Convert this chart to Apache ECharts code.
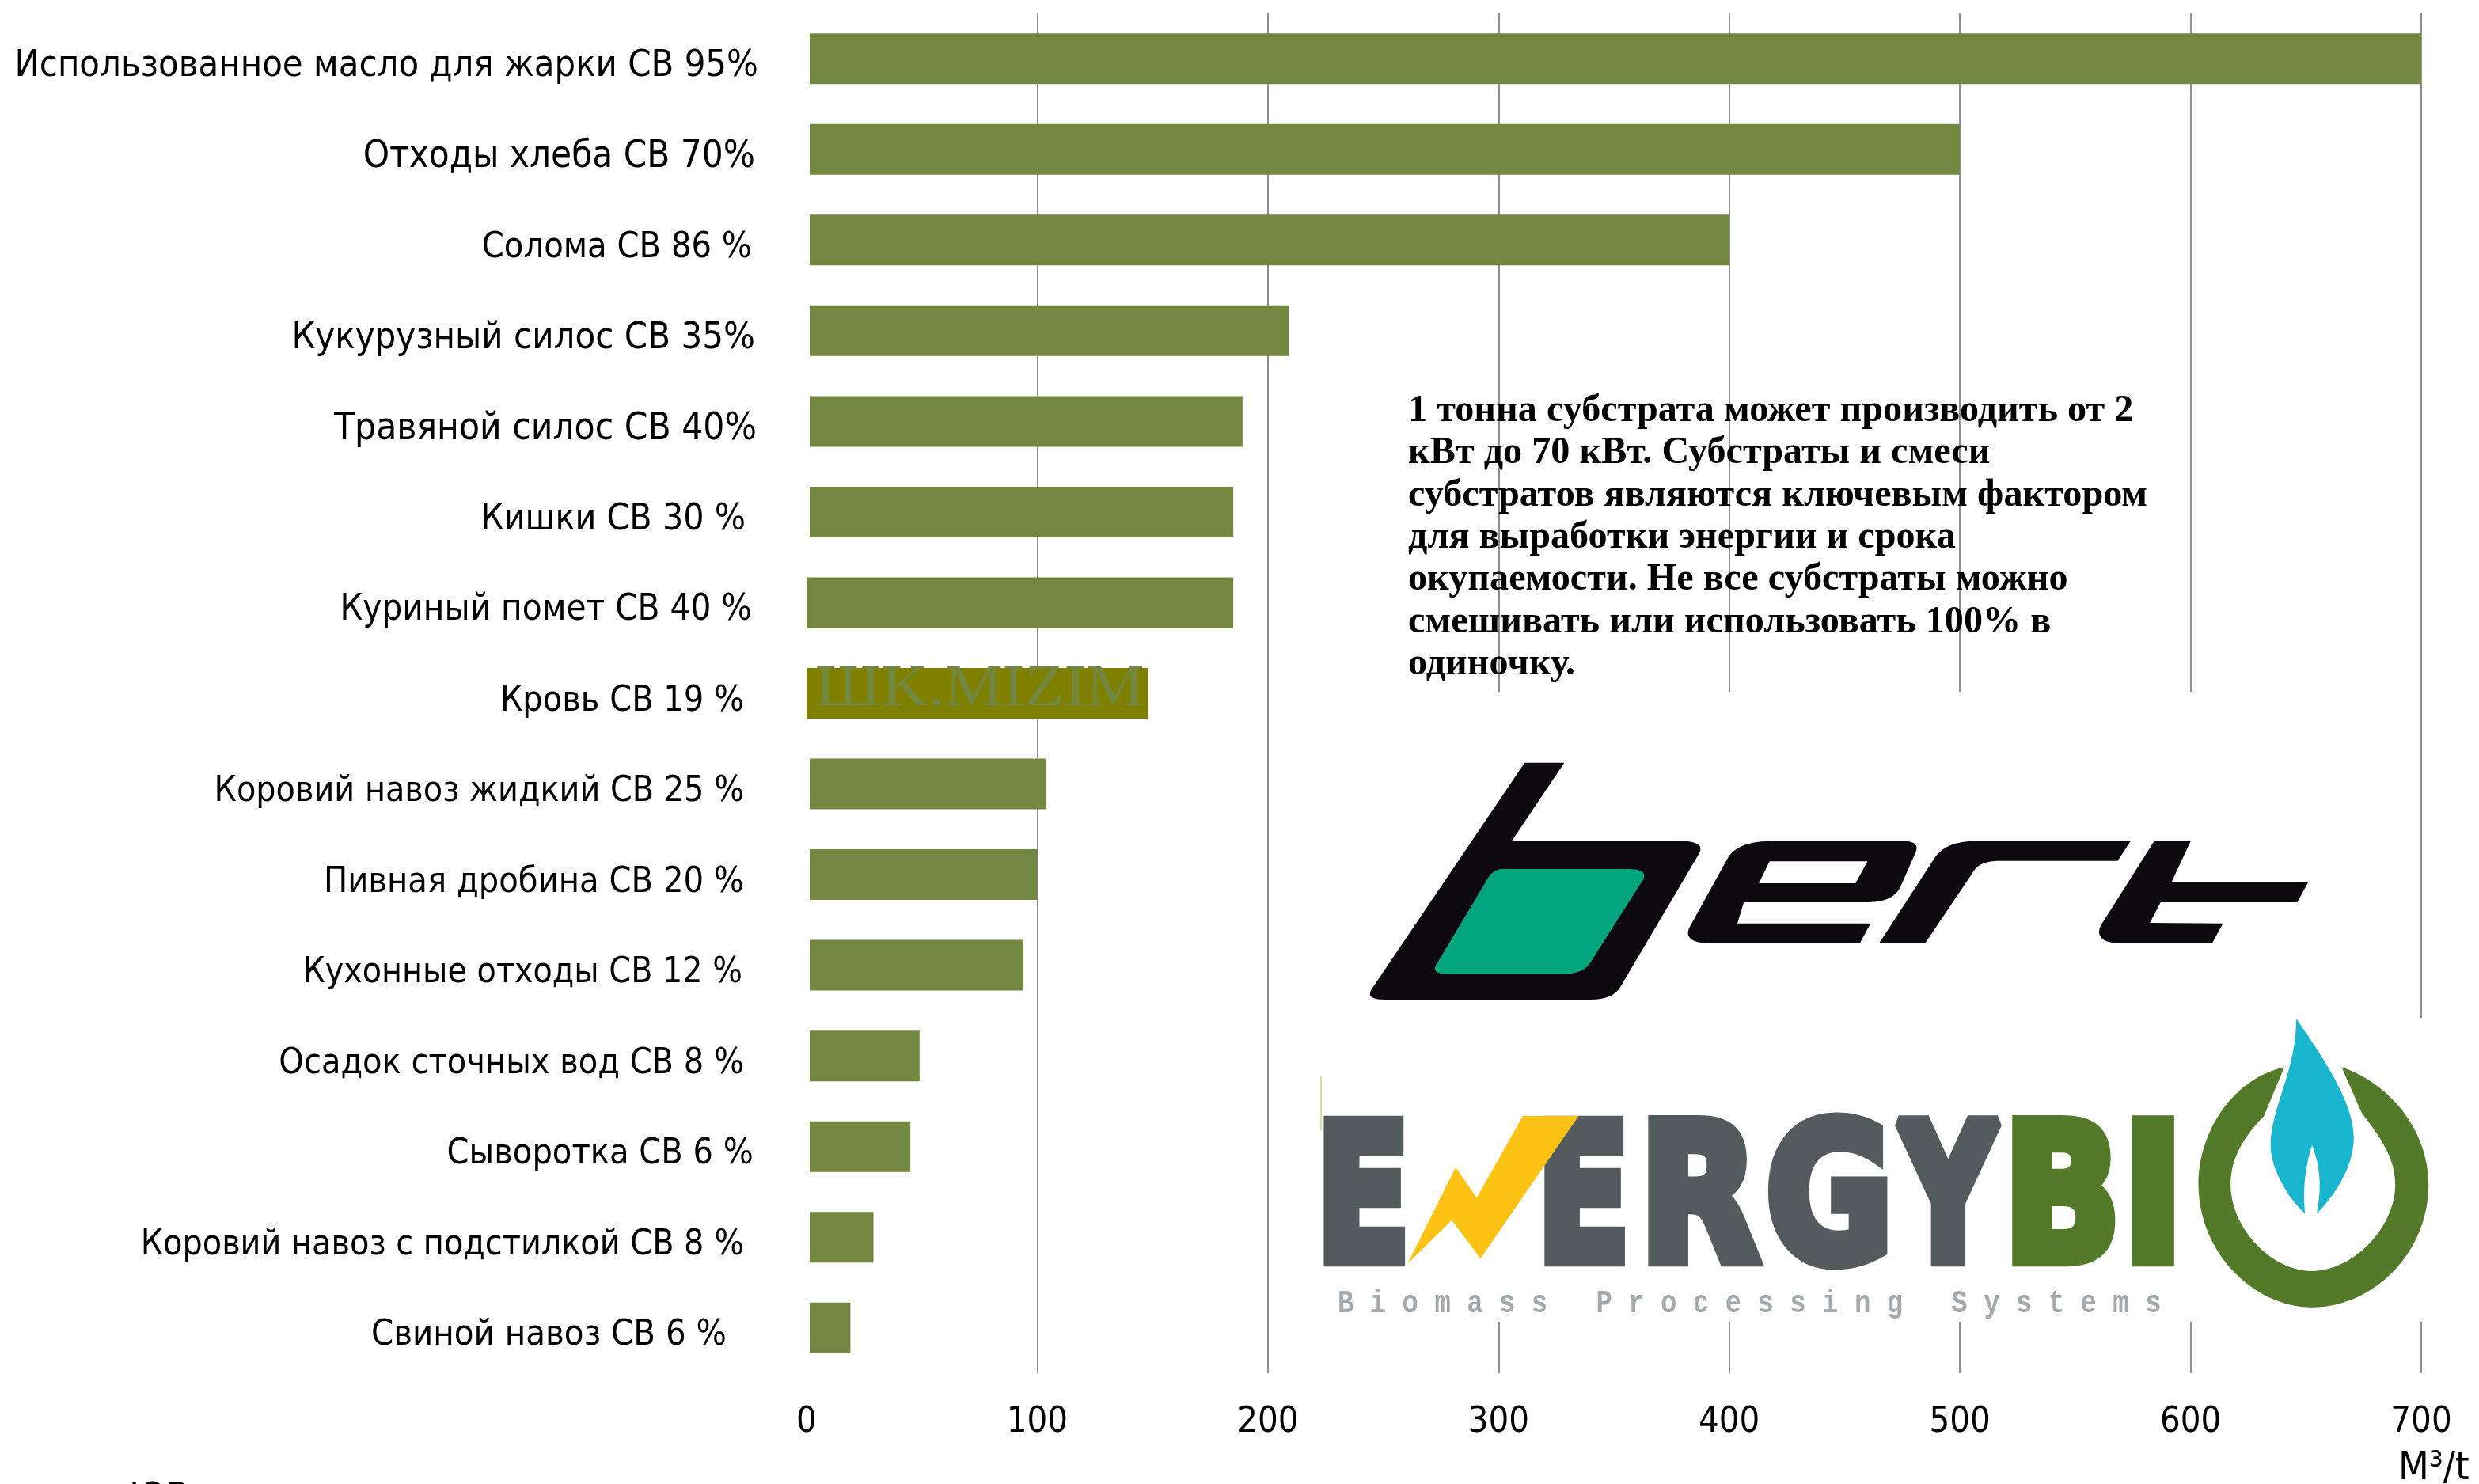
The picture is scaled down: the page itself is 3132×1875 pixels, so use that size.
<!DOCTYPE html>
<html>
<head>
<meta charset="utf-8">
<style>html,body{margin:0;padding:0;background:#fff}#c{width:3132px;height:1875px}</style>
<script src="https://cdn.jsdelivr.net/npm/echarts@6/dist/echarts.min.js"></script>
</head>
<body>
<div id="c"></div>
<script>
const categories = [
  'Использованное масло для жарки СВ 95%',
  'Отходы хлеба СВ 70%',
  'Солома СВ 86 %',
  'Кукурузный силос СВ 35%',
  'Травяной силос СВ 40%',
  'Кишки СВ 30 %',
  'Куриный помет СВ 40 %',
  'Кровь СВ 19 %',
  'Коровий навоз жидкий СВ 25 %',
  'Пивная дробина СВ 20 %',
  'Кухонные отходы СВ 12 %',
  'Осадок сточных вод СВ 8 %',
  'Сыворотка СВ 6 %',
  'Коровий навоз с подстилкой СВ 8 %',
  'Свиной навоз СВ 6 %'
];
const biogasYield = [700, 500, 400, 209, 189, 185, 185, 148, 104, 100, 94, 49, 45, 29, 19];
const xTicks = [0, 100, 200, 300, 400, 500, 600, 700];
const noteLines = [
  '1 тонна субстрата может производить от 2',
  'кВт до 70 кВт. Субстраты и смеси',
  'субстратов являются ключевым фактором',
  'для выработки энергии и срока',
  'окупаемости. Не все субстраты можно',
  'смешивать или использовать 100% в',
  'одиночку.'
];
const unitLabel = 'М³/t';
const watermark = 'ШK.MIZIM';

// per-label typography of the axis (layout only)
const labelRightInset = [0, 4, 8, 4, 2, 16, 8, 18, 18, 18, 20, 18, 6, 18, 40];
const labelFontSize = [46.7, 47.1, 44.7, 46.8, 47.4, 46, 45.3, 44.5, 44.3, 44.7, 44.2, 44.5, 44.6, 44.3, 45];
const BAR = '#728840', GRID = '#8e8e8e', LABEL_FONT = '"DejaVu Sans Condensed"';

const chart = echarts.init(document.getElementById('c'), null, {renderer: 'canvas'});
const mctx = document.createElement('canvas').getContext('2d');

function fitText(ch, x0, x1, y0, y1, fill, lw) {
  const font = 'bold 200px "DejaVu Sans"';
  mctx.font = font; mctx.textBaseline = 'middle'; mctx.textAlign = 'left';
  const m = mctx.measureText(ch);
  const L = m.actualBoundingBoxLeft + lw / 2, R = m.actualBoundingBoxRight + lw / 2;
  const A = m.actualBoundingBoxAscent + lw / 2, D = m.actualBoundingBoxDescent + lw / 2;
  const sx = (x1 - x0) / (L + R), sy = (y1 - y0) / (A + D);
  return {
    type: 'text', z: 60, x: x0 + L * sx, y: y0 + A * sy, scaleX: sx, scaleY: sy,
    style: {text: ch, font, fill, stroke: fill, lineWidth: lw, textAlign: 'left', textVerticalAlign: 'middle'}
  };
}
function pathEl(name, d, fill, z) {
  echarts.graphic.registerShape(name, echarts.graphic.extendPath(d, {}));
  return {type: name, z, shape: {}, style: {fill}};
}

const DARK = '#545b5f', GREEN = '#537a28', INK = '#0d0a0f';
const graphic = [
  // white backing of the pasted logos
  {type: 'rect', z: 1, shape: {x: 1670, y: 874, width: 1370, height: 412}, style: {fill: '#fff'}},
  {type: 'rect', z: 1, shape: {x: 1670, y: 1286, width: 1462, height: 384}, style: {fill: '#fff'}},
  {type: 'rect', z: 55, shape: {x: 1014, y: 17, width: 9, height: 708}, style: {fill: '#fff'}},
  {type: 'rect', z: 55, shape: {x: 1014, y: 805, width: 9, height: 35}, style: {fill: '#fff'}},
  {type: 'rect', z: 55, shape: {x: 1014, y: 915, width: 9, height: 820}, style: {fill: '#fff'}},
  {type: 'rect', z: 55, shape: {x: 1668, y: 1360, width: 2, height: 68}, style: {fill: '#d3e3a3'}},
  // note
  {type: 'text', z: 50, x: 1779, y: 493, scaleX: 1.004, style: {
    text: noteLines.join('\n'), font: 'bold 48px "Liberation Serif"', fill: '#000', lineHeight: 53.3,
    textAlign: 'left', textVerticalAlign: 'top'}},
  // watermark over the blood bar
  {type: 'text', z: 50, x: 1030, y: 871, scaleX: 1.1, style: {
    text: watermark, font: '75px "Liberation Serif"', fill: BAR, textAlign: 'left', textVerticalAlign: 'middle'}},
  {type: 'rect', z: 51, shape: {x: 1452, y: 840, width: 60, height: 70}, style: {fill: '#fff'}},
  // bert logo
  {type: 'group', z: 60, x: 1650, y: 900, scaleX: 0.946, scaleY: 0.51, children: [
    pathEl('bertB', 'M292 125 L345 125 L275 318 L495 318 Q535 318 525 350 L420 680 Q410 712 380 712 L105 712 Q78 712 88 685 Z', INK, 60),
    pathEl('bertG', 'M262 388 L430 388 Q458 388 450 415 L378 625 Q368 648 345 648 L190 648 Q165 648 175 622 L245 405 Q252 388 262 388 Z', '#04a67f', 61)
  ]},
  {type: 'group', z: 60, x: 2100, y: 1040, scaleX: 1 / 1.842, scaleY: 1 / 3, children: [
    pathEl('bertE', 'M150 140 Q170 70 250 68 L565 68 Q600 70 590 110 L555 240 Q540 298 480 300 L190 300 L175 380 L485 380 L460 455 L110 455 Q50 455 62 400 Z', INK, 60),
    pathEl('bertE2', 'M250 145 L478 145 L450 228 L225 228 Z', '#fff', 61),
    pathEl('bertR', 'M505 455 L612 455 L730 170 Q745 145 780 143 L1060 143 L1090 68 L730 68 Q660 68 635 130 Z', INK, 60),
    pathEl('bertT', 'M1145 68 L1230 68 L1185 225 L1503 225 L1478 300 L1160 300 L1135 378 L1305 380 L1280 455 L1060 455 Q1005 450 1020 390 Z', INK, 60)
  ]},
  // EnergyBio logo
  fitText('E', 1672, 1775, 1409, 1600, DARK, 14),
  fitText('E', 1951, 2053, 1409, 1600, DARK, 14),
  fitText('R', 2082, 2225, 1409, 1600, DARK, 14),
  fitText('G', 2233, 2385, 1405, 1605, DARK, 14),
  fitText('Y', 2393, 2530, 1409, 1600, DARK, 14),
  fitText('B', 2542, 2673, 1409, 1600, GREEN, 14),
  fitText('I', 2693, 2747, 1409, 1600, GREEN, 14),
  {type: 'group', z: 60, x: 1640, y: 1250, scaleX: 1 / 2.06, scaleY: 1 / 3, children: [
    {type: 'polygon', z: 61, shape: {points: [[585, 480], [730, 480], [475, 1020], [400, 875], [285, 1040], [410, 675], [465, 790]]}, style: {fill: '#fcc315'}}
  ]},
  {type: 'group', z: 60, x: 2400, y: 1250, scaleX: 1 / 2.14, scaleY: 1 / 3, children: [
    pathEl('ebRing', 'M1040 295 C900 340 808 540 808 740 C808 1000 960 1205 1115 1205 C1280 1205 1430 1000 1430 740 C1430 540 1330 360 1195 295 L1250 470 C1300 560 1340 640 1340 740 C1340 900 1230 1065 1115 1068 C1000 1065 895 900 895 740 C895 640 930 560 985 480 Z', GREEN, 60),
    pathEl('ebFlame', 'M1072 110 C1130 230 1228 420 1228 560 C1228 680 1170 790 1128 850 C1140 760 1140 680 1115 590 C1095 680 1090 760 1096 850 C1050 790 1003 680 1003 590 C1003 450 1075 300 1072 110 Z', '#1ab6cf', 61)
  ]},
  {type: 'text', z: 60, x: 1690, y: 1648, scaleX: 0.85, style: {
    text: 'B i o m a s s   P r o c e s s i n g   S y s t e m s', font: 'bold 40px "Liberation Mono"', fill: '#a3a9ac',
    textAlign: 'left', textVerticalAlign: 'middle'}},
  // clipped line at the bottom edge of the picture
  {type: 'text', z: 60, x: 163, y: 1871, style: {
    text: 'ЮВ', font: '48px ' + LABEL_FONT, fill: '#000', textAlign: 'left', textVerticalAlign: 'top'}}
];

chart.setOption({
  animation: false,
  backgroundColor: '#fff',
  grid: {left: 1019, top: 17, width: 2040, height: 1718, containLabel: false, outerBoundsMode: 'none'},
  xAxis: {
    type: 'value', min: xTicks[0], max: xTicks[xTicks.length - 1], interval: xTicks[1] - xTicks[0],
    axisLine: {show: false}, axisTick: {show: false},
    splitLine: {show: true, showMinLine: false, lineStyle: {color: GRID, width: 2}},
    axisLabel: {color: '#000', fontFamily: LABEL_FONT, fontSize: 45, margin: 40, showMinLabel: true, showMaxLabel: true},
    name: unitLabel, nameLocation: 'end', nameGap: -29,
    nameTextStyle: {color: '#000', fontFamily: LABEL_FONT, fontSize: 50, verticalAlign: 'top', padding: [96, 0, 0, 0]}
  },
  yAxis: {
    type: 'category', inverse: true,
    data: categories.map((c, i) => ({value: c, textStyle: {
      fontSize: labelFontSize[i], verticalAlign: 'top', lineHeight: 20, padding: [0, labelRightInset[i], 0, 0]}})),
    axisLine: {show: false}, axisTick: {show: false}, splitLine: {show: false},
    axisLabel: {color: '#000', fontFamily: LABEL_FONT, fontSize: 46, margin: 61, interval: 0, hideOverlap: false}
  },
  series: [{
    type: 'bar', barWidth: 64, z: 3, silent: true,
    data: biogasYield.map((v, i) => i === 7 ? {value: v, itemStyle: {color: '#808000'}} : v),
    itemStyle: {color: BAR}
  }],
  graphic
});
</script>
</body>
</html>
